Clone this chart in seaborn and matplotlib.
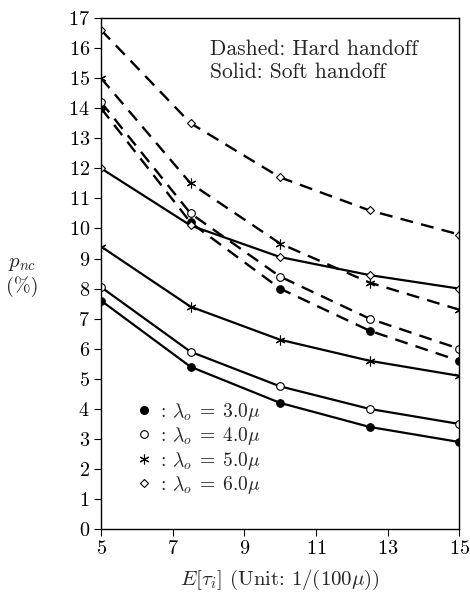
import matplotlib
matplotlib.use("Agg")
import matplotlib.pyplot as plt
import seaborn as sns
import pandas as pd
from matplotlib.lines import Line2D

# === DATA ===
tau = [5, 7.5, 10, 12.5, 15]
lambdas = ["3.0", "4.0", "5.0", "6.0"]

hard_30 = [14.0, 10.2, 8.0, 6.6, 5.6]
hard_40 = [14.2, 10.5, 8.4, 7.0, 6.0]
hard_50 = [15.0, 11.5, 9.5, 8.2, 7.3]
hard_60 = [16.6, 13.5, 11.7, 10.6, 9.8]

soft_30 = [7.6, 5.4, 4.2, 3.4, 2.9]
soft_40 = [8.05, 5.9, 4.75, 4.0, 3.5]
soft_50 = [9.4, 7.4, 6.3, 5.6, 5.1]
soft_60 = [12.0, 10.1, 9.05, 8.45, 8.0]

hard = [hard_30, hard_40, hard_50, hard_60]
soft = [soft_30, soft_40, soft_50, soft_60]

# === STYLE ===
sns.set_style("ticks")
plt.rcParams["font.family"] = ["cmr10", "DejaVu Serif"]
plt.rcParams["mathtext.fontset"] = "cm"
plt.rcParams["axes.formatter.use_mathtext"] = True
plt.rcParams["axes.unicode_minus"] = False

marker_styles = [
    dict(marker="o", markersize=5.5, markerfacecolor="black", markeredgecolor="black"),
    dict(marker="o", markersize=5.5, markerfacecolor="white", markeredgecolor="black", markeredgewidth=0.8),
    dict(marker=(6, 2, 0), markersize=7, markeredgecolor="black", markeredgewidth=0.8),
    dict(marker="D", markersize=4.5, markerfacecolor="white", markeredgecolor="black", markeredgewidth=0.8),
]

fig = plt.figure(figsize=(4.7, 6.0), dpi=100)
ax = fig.add_axes([0.215, 0.118, 0.762, 0.852])

for vals, ms in zip(hard, marker_styles):
    df = pd.DataFrame({"tau": tau, "p": vals})
    sns.lineplot(data=df, x="tau", y="p", ax=ax, color="black", linewidth=1.7,
                 linestyle=(0, (5.5, 3.5)), **ms)

for vals, ms in zip(soft, marker_styles):
    df = pd.DataFrame({"tau": tau, "p": vals})
    sns.lineplot(data=df, x="tau", y="p", ax=ax, color="black", linewidth=1.6,
                 linestyle="-", **ms)

ax.set_xlim(5, 15)
ax.set_ylim(0, 17)
ax.set_xticks([5, 7, 9, 11, 13, 15])
ax.set_yticks(range(0, 18))
ax.tick_params(axis="both", direction="out", length=5, width=0.8, labelsize=14.5,
               colors="black", pad=3)
for sp in ax.spines.values():
    sp.set_linewidth(1.0)
    sp.set_color("black")
ax.set_xlabel("")
ax.set_ylabel("")

# legend with markers only
handles = [Line2D([], [], linestyle="none", color="black", **ms) for ms in marker_styles]
labels = [r"$:\,\lambda_o\;=\;%s\mu$" % l for l in lambdas]
ax.legend(handles, labels, loc="upper left", bbox_to_anchor=(0.075, 0.27),
          frameon=False, fontsize=14, handlelength=0.7, handletextpad=0.3,
          labelspacing=0.12, borderpad=0)

ax.text(0.304, 0.958, "Dashed: Hard handoff\nSolid: Soft handoff",
        transform=ax.transAxes, ha="left", va="top", fontsize=15.5,
        linespacing=1.2)

fig.text(0.047, 0.56, r"$p_{nc}$", ha="center", va="center", fontsize=15)
fig.text(0.047, 0.523, "(%)", ha="center", va="center", fontsize=14.5)
fig.text(0.595, 0.034, r"$E[\tau_i]$ (Unit: $1/(100\mu)$)", ha="center",
         va="center", fontsize=15)

plt.savefig("out.png", dpi=100)
plt.close()
